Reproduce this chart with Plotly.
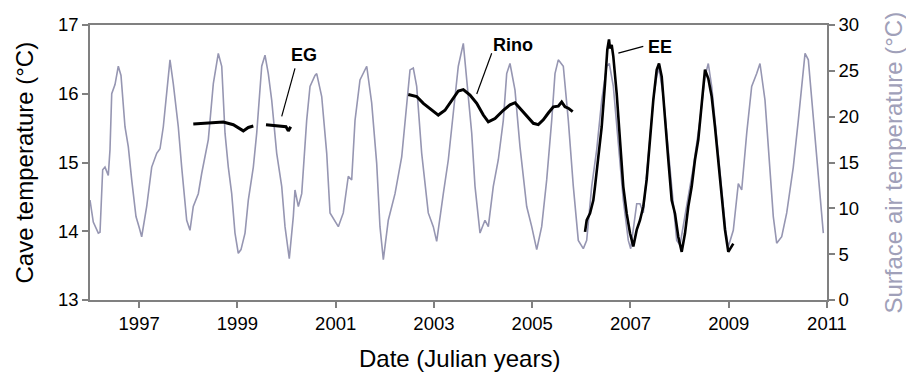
import plotly.graph_objects as go

# ---------------- data ----------------
surface_year = [
    1996.000, 1996.067, 1996.169, 1996.204, 1996.258, 1996.305, 1996.372, 1996.407,
    1996.442, 1996.509, 1996.576, 1996.631, 1996.712, 1996.780, 1996.849, 1996.936,
    1996.997, 1997.052, 1997.154, 1997.256, 1997.358, 1997.425, 1997.492, 1997.561,
    1997.628, 1997.695, 1997.797, 1997.866, 1997.968, 1998.035, 1998.102, 1998.204,
    1998.273, 1998.408, 1998.510, 1998.611, 1998.681, 1998.748, 1998.815, 1998.884,
    1998.951, 1999.018, 1999.073, 1999.155, 1999.222, 1999.324, 1999.393, 1999.495,
    1999.562, 1999.629, 1999.698, 1999.800, 1999.902, 1999.969, 2000.056, 2000.138,
    2000.172, 2000.240, 2000.309, 2000.410, 2000.478, 2000.579, 2000.614, 2000.716,
    2000.818, 2000.885, 2000.966, 2001.054, 2001.155, 2001.257, 2001.326, 2001.394,
    2001.495, 2001.632, 2001.733, 2001.835, 2001.902, 2001.970, 2002.071, 2002.208,
    2002.344, 2002.446, 2002.513, 2002.580, 2002.649, 2002.751, 2002.885, 2002.987,
    2003.056, 2003.191, 2003.293, 2003.394, 2003.496, 2003.598, 2003.667, 2003.769,
    2003.836, 2003.938, 2004.039, 2004.107, 2004.208, 2004.310, 2004.412, 2004.481,
    2004.548, 2004.650, 2004.752, 2004.888, 2004.990, 2005.092, 2005.193, 2005.295,
    2005.397, 2005.464, 2005.531, 2005.633, 2005.735, 2005.837, 2005.938, 2006.040,
    2006.109, 2006.211, 2006.313, 2006.415, 2006.516, 2006.569, 2006.651, 2006.753,
    2006.854, 2006.956, 2007.005, 2007.127, 2007.194, 2007.261, 2007.363, 2007.465,
    2007.534, 2007.581, 2007.669, 2007.770, 2007.872, 2007.941, 2008.008, 2008.110,
    2008.177, 2008.279, 2008.415, 2008.517, 2008.584, 2008.653, 2008.755, 2008.857,
    2008.938, 2008.991, 2009.093, 2009.195, 2009.264, 2009.366, 2009.467, 2009.569,
    2009.636, 2009.738, 2009.840, 2009.907, 2009.976, 2010.078, 2010.180, 2010.314,
    2010.416, 2010.485, 2010.553, 2010.620, 2010.721, 2010.823, 2010.925,
]
surface_temp = [
    10.9, 8.5, 7.3, 7.4, 14.2, 14.5, 13.6, 16.4,
    22.5, 23.5, 25.5, 24.5, 18.9, 16.7, 13.1, 9.1,
    8.0, 6.9, 10.2, 14.5, 16.0, 16.5, 18.9, 22.5,
    26.2, 23.6, 18.9, 14.5, 8.7, 7.6, 10.2, 11.6,
    13.8, 17.5, 23.6, 26.9, 25.5, 18.2, 14.5, 11.6,
    7.3, 5.1, 5.5, 7.3, 10.9, 14.5, 18.2, 25.5,
    26.7, 24.7, 21.8, 16.0, 12.4, 8.0, 4.5, 9.1,
    12.0, 10.2, 11.6, 19.6, 23.3, 24.5, 24.7, 22.2,
    16.0, 9.5, 8.8, 8.0, 9.5, 13.5, 13.1, 19.6,
    24.0, 25.5, 21.5, 14.9, 8.0, 4.4, 8.7, 11.6,
    15.6, 21.5, 25.1, 25.3, 23.3, 16.0, 9.5, 8.0,
    6.4, 11.6, 15.3, 20.4, 25.5, 28.0, 24.0, 18.2,
    12.4, 7.3, 8.7, 8.0, 12.4, 15.3, 19.6, 24.7,
    25.8, 22.9, 16.7, 10.2, 8.0, 5.5, 8.0, 13.1,
    19.6, 24.7, 26.2, 25.5, 19.6, 12.4, 6.5, 5.6,
    6.5, 12.4, 16.4, 21.8, 25.5, 25.8, 23.3, 17.1,
    10.9, 6.5, 5.6, 10.5, 10.5, 9.5, 15.3, 21.8,
    24.4, 25.3, 22.2, 16.4, 10.2, 6.5, 6.0, 9.5,
    11.3, 14.5, 19.6, 24.4, 25.8, 23.3, 17.5, 11.6,
    7.6, 5.8, 7.6, 12.7, 12.0, 18.2, 23.3, 24.7,
    25.8, 21.8, 13.8, 9.1, 6.2, 6.9, 9.5, 14.5,
    19.6, 23.6, 26.9, 26.2, 20.0, 13.5, 7.3,
]

eg_year = [1998.102, 1998.400, 1998.713, 1998.917, 1999.120, 1999.222, 1999.324,
           None,
           1999.582, 1999.867, 1999.989, 2000.036, 2000.085]
eg_temp = [15.56, 15.57, 15.59, 15.55, 15.46, 15.51, 15.53,
           None,
           15.55, 15.53, 15.52, 15.46, 15.52]

rino_year = [2002.478, 2002.649, 2002.784, 2002.955, 2003.089, 2003.225, 2003.362,
             2003.496, 2003.598, 2003.734, 2003.871, 2004.005, 2004.107, 2004.243,
             2004.412, 2004.548, 2004.650, 2004.752, 2004.888, 2005.023, 2005.124,
             2005.226, 2005.328, 2005.430, 2005.531, 2005.600, 2005.668, 2005.735,
             2005.824]
rino_temp = [15.99, 15.96, 15.86, 15.76, 15.69, 15.76, 15.91,
             16.04, 16.06, 15.98, 15.86, 15.69, 15.59, 15.64,
             15.76, 15.84, 15.87, 15.79, 15.67, 15.57, 15.55,
             15.62, 15.72, 15.81, 15.82, 15.88, 15.81, 15.79,
             15.74]

ee_year = [2006.075, 2006.109, 2006.177, 2006.244, 2006.278, 2006.346, 2006.415,
           2006.482, 2006.529, 2006.563, 2006.583, 2006.618, 2006.651, 2006.720,
           2006.787, 2006.854, 2006.923, 2006.991, 2007.058, 2007.127, 2007.194,
           2007.261, 2007.330, 2007.397, 2007.465, 2007.534, 2007.581, 2007.636,
           2007.703, 2007.770, 2007.839, 2007.906, 2007.973, 2008.043, 2008.110,
           2008.177, 2008.246, 2008.313, 2008.380, 2008.450, 2008.517, 2008.584,
           2008.653, 2008.720, 2008.787, 2008.857, 2008.924, 2008.991, 2009.060,
           2009.093]
ee_temp = [13.99, 14.16, 14.26, 14.45, 14.65, 15.04, 15.52,
           16.15, 16.64, 16.79, 16.66, 16.71, 16.54, 16.00,
           15.33, 14.65, 14.26, 13.97, 13.78, 14.02, 14.16,
           14.36, 14.75, 15.33, 15.91, 16.35, 16.44, 16.25,
           15.57, 15.04, 14.45, 14.26, 13.92, 13.70, 13.97,
           14.36, 14.65, 15.04, 15.33, 15.81, 16.35, 16.22,
           15.96, 15.52, 15.04, 14.55, 14.02, 13.70, 13.78,
           13.82]

year_ticks = [1997, 1999, 2001, 2003, 2005, 2007, 2009, 2011]
cave_ticks = [13, 14, 15, 16, 17]
surface_ticks = [0, 5, 10, 15, 20, 25, 30]

# labels: (text, x, y) in data coordinates of the cave axis, and leader lines
site_labels = ["EG", "Rino", "EE"]
label_x = [2000.356, 2004.609, 2007.611]
label_y = [16.56, 16.71, 16.68]
leader_x0 = [1999.902, 2003.871, 2006.753]
leader_y0 = [15.67, 15.996, 16.59]
leader_x1 = [2000.172, 2004.176, 2007.261]
leader_y1 = [16.37, 16.59, 16.69]

# ---------------- figure ----------------
FONT = "Arial, 'Liberation Sans', sans-serif"
GRAY_LINE = "rgb(150,150,178)"
GRAY_TITLE = "rgb(160,160,185)"
AXIS = "rgb(128,128,128)"

fig = go.Figure()
fig.add_trace(go.Scatter(x=surface_year, y=surface_temp, mode="lines",
                         line=dict(color=GRAY_LINE, width=1.6), yaxis="y",
                         showlegend=False, hoverinfo="skip"))
fig.add_trace(go.Scatter(x=eg_year, y=eg_temp, mode="lines", connectgaps=False,
                         line=dict(color="black", width=3), yaxis="y2",
                         showlegend=False))
fig.add_trace(go.Scatter(x=rino_year, y=rino_temp, mode="lines",
                         line=dict(color="black", width=3), yaxis="y2",
                         showlegend=False))
fig.add_trace(go.Scatter(x=ee_year, y=ee_temp, mode="lines",
                         line=dict(color="black", width=2.6), yaxis="y2",
                         showlegend=False))

PL, PR, PT, PB = 90, 827, 25, 300

def px_to_paper(x, y):
    return (x - PL) / (PR - PL), (PB - y) / (PB - PT)

annotations = []
for t, x, y in zip(site_labels, label_x, label_y):
    annotations.append(dict(text="<b>%s</b>" % t, x=x, y=y, xref="x", yref="y2",
                            showarrow=False, font=dict(family=FONT, size=18, color="black")))

titles = [("Cave temperature (°C)", 24, 162.5, -90, "black"),
          ("Surface air temperature (°C)", 893, 162.5, -90, GRAY_TITLE),
          ("Date (Julian years)", 459, 358, 0, "black")]
for text, px, py, ang, col in titles:
    xp, yp = px_to_paper(px, py)
    annotations.append(dict(text=text, x=xp, y=yp, xref="paper", yref="paper",
                            xanchor="center", yanchor="middle", showarrow=False,
                            textangle=ang, font=dict(family=FONT, size=24, color=col)))

shapes = []
for x0, y0, x1, y1 in zip(leader_x0, leader_y0, leader_x1, leader_y1):
    shapes.append(dict(type="line", x0=x0, y0=y0, x1=x1, y1=y1, xref="x", yref="y2",
                       line=dict(color="black", width=1.2)))

fig.update_layout(
    width=906, height=375,
    margin=dict(l=PL, r=906 - PR, t=PT, b=375 - PB),
    paper_bgcolor="white", plot_bgcolor="white",
    font=dict(family=FONT, size=18.5, color="black"),
    xaxis=dict(range=[1996, 2011], tickvals=year_ticks, ticks="outside", ticklen=6,
               tickcolor=AXIS, tickwidth=1.5, showline=True, linecolor=AXIS, linewidth=1.5,
               mirror=True, showgrid=False, zeroline=False,
               tickfont=dict(family=FONT, size=18.5, color="black")),
    yaxis=dict(range=[0, 30], tickvals=surface_ticks, side="right", ticks="outside", ticklen=6,
               tickcolor=AXIS, tickwidth=1.5, showline=True, linecolor=AXIS, linewidth=1.5,
               showgrid=False, zeroline=False,
               tickfont=dict(family=FONT, size=18.5, color="black")),
    yaxis2=dict(range=[13, 17], tickvals=cave_ticks, side="left", overlaying="y",
                ticks="outside", ticklen=6, tickcolor=AXIS, tickwidth=1.5,
                showline=True, linecolor=AXIS, linewidth=1.5, showgrid=False, zeroline=False,
                tickfont=dict(family=FONT, size=18.5, color="black")),
    annotations=annotations,
    shapes=shapes,
)

fig.write_html("out.html",
               config={"displayModeBar": False},
               post_script="document.body.style.margin='0';document.body.style.overflow='hidden';")
